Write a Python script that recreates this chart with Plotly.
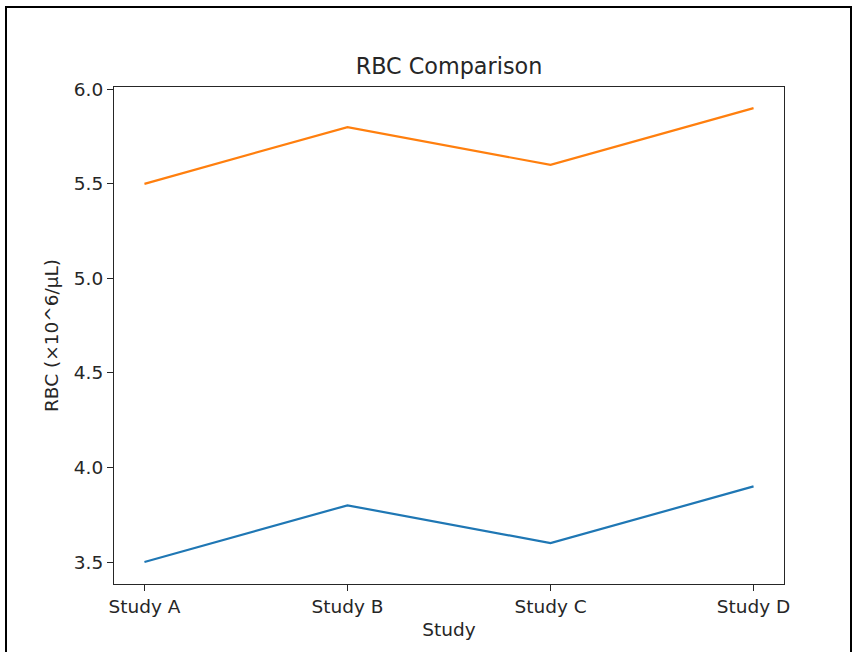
import plotly.graph_objects as go

studies = ["Study A", "Study B", "Study C", "Study D"]
series_blue = [3.5, 3.8, 3.6, 3.9]
series_orange = [5.5, 5.8, 5.6, 5.9]
y_ticks = [3.5, 4.0, 4.5, 5.0, 5.5, 6.0]

W, H = 858, 652
L, R, T, B = 114, 784, 87, 584

fig = go.Figure()
fig.add_trace(go.Scatter(x=list(range(len(studies))), y=series_blue, mode="lines",
                         line=dict(color="#1f77b4", width=2.2), showlegend=False))
fig.add_trace(go.Scatter(x=list(range(len(studies))), y=series_orange, mode="lines",
                         line=dict(color="#ff7f0e", width=2.2), showlegend=False))

def px_x(p):
    return (p - L) / (R - L)

def px_y(p):
    return (B - p) / (B - T)

fig.add_shape(type="rect", xref="paper", yref="paper",
              x0=px_x(6), x1=px_x(851), y0=px_y(660), y1=px_y(7),
              line=dict(color="black", width=2), fillcolor="rgba(0,0,0,0)", layer="below")

font = "DejaVu Sans"
fig.update_layout(
    width=W, height=H,
    margin=dict(l=L, r=W - R, t=T, b=H - B),
    paper_bgcolor="white", plot_bgcolor="white",
    font=dict(family=font, size=18.5, color="#262626"),
    title=dict(text="RBC Comparison", x=(L + R) / 2 / W, xanchor="center",
               y=1 - 66 / H, yanchor="middle", font=dict(size=22.3, color="#262626")),
    xaxis=dict(range=[-0.15, 3.15], tickmode="array", tickvals=list(range(len(studies))),
               ticktext=studies, showgrid=False, zeroline=False,
               showline=True, linecolor="#262626", linewidth=1.1, mirror=True,
               ticks="outside", ticklen=6, tickcolor="#262626",
               title=dict(text="Study", standoff=6, font=dict(size=18.5))),
    yaxis=dict(range=[3.384, 6.012], tickmode="array", tickvals=y_ticks,
               ticktext=[f"{v:.1f}" for v in y_ticks], showgrid=False, zeroline=False,
               showline=True, linecolor="#262626", linewidth=1.1, mirror=True,
               ticks="outside", ticklen=6, tickcolor="#262626",
               title=dict(text="RBC (×10^6/μL)", standoff=10, font=dict(size=18.5))),
)

fig.write_html("out.html", config={"displayModeBar": False},
               post_script="document.body.style.margin='0';")
